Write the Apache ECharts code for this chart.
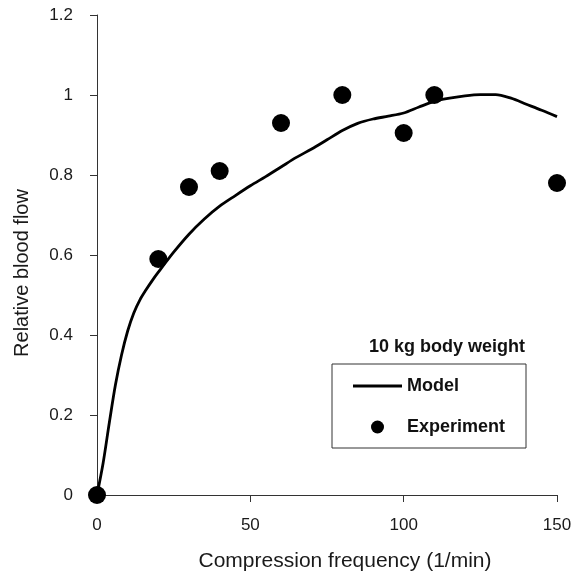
<!DOCTYPE html>
<html>
<head>
<meta charset="utf-8">
<script src="https://cdn.jsdelivr.net/npm/echarts@6/dist/echarts.min.js"></script>
<style>
html,body{margin:0;padding:0;background:#fff;}
#main{width:580px;height:577px;}
</style>
</head>
<body>
<div id="main"></div>
<script>
// model curve
var modelX=[0,2,4,6,8,10,12,14,16,18,20,25,30,35,40,45,50,55,60,65,70,75,80,85,90,95,100,105,110,115,120,125,130,135,140,145,150];
var modelY=[0,0.08,0.18,0.275,0.35,0.41,0.455,0.488,0.513,0.536,0.557,0.607,0.652,0.69,0.722,0.748,0.773,0.796,0.82,0.844,0.865,0.888,0.911,0.929,0.94,0.947,0.955,0.97,0.984,0.992,0.998,1.001,1.001,0.992,0.977,0.962,0.946];
// experiment points
var expX=[0,20,30,40,60,80,100,110,150];
var expY=[0,0.59,0.77,0.81,0.93,1.0,0.905,1.0,0.78];

var font='Arial, "Liberation Sans", sans-serif';
var chart=echarts.init(document.getElementById('main'));

var modelData=modelX.map(function(x,i){return [x,modelY[i]];});
var expData=expX.map(function(x,i){return [x,expY[i]];});

var option={
    backgroundColor:'#fff',
    animation:false,
    grid:{left:97,right:23,top:15,bottom:80},
    xAxis:{
        type:'value',min:0,max:150,interval:50,
        name:'Compression frequency (1/min)',nameLocation:'middle',nameGap:56,
        nameTextStyle:{fontFamily:font,fontSize:21,color:'#1a1a1a',padding:[0,0,0,36]},
        axisLine:{lineStyle:{color:'#333',width:1}},
        axisTick:{show:true,length:7,lineStyle:{color:'#333'}},
        axisLabel:{fontFamily:font,fontSize:17,color:'#1a1a1a',margin:22},
        splitLine:{show:false}
    },
    yAxis:{
        type:'value',min:0,max:1.2,interval:0.2,
        name:'Relative blood flow',nameLocation:'middle',nameGap:65,
        nameTextStyle:{fontFamily:font,fontSize:20,color:'#1a1a1a',padding:[0,36,0,0]},
        axisLine:{show:true,lineStyle:{color:'#333',width:1}},
        axisTick:{show:true,length:7,lineStyle:{color:'#333'}},
        axisLabel:{fontFamily:font,fontSize:17,color:'#1a1a1a',margin:24,padding:[6,0,0,0]},
        splitLine:{show:false}
    },
    legend:{
        data:[
            {name:'Model',icon:'path://M0,0 L49,0 L49,3 L0,3 Z'},
            {name:'Experiment',icon:'circle'}
        ],
        orient:'vertical',left:353,top:377,padding:0,
        itemWidth:49,itemHeight:13,itemGap:23,
        textStyle:{fontFamily:font,fontSize:18,fontWeight:'bold',color:'#111'}
    },
    graphic:[
        {type:'rect',shape:{x:332,y:364,width:194,height:84},
         style:{fill:'none',stroke:'#333',lineWidth:1}},
        {type:'text',x:447,y:347,
         style:{text:'10 kg body weight',font:'bold 18px '+font,fill:'#111',
                textAlign:'center',textVerticalAlign:'middle'}}
    ],
    series:[
        {name:'Model',type:'line',data:modelData,smooth:0.3,
         symbol:'none',lineStyle:{color:'#000',width:2.8},itemStyle:{color:'#000'},z:2},
        {name:'Experiment',type:'scatter',data:expData,symbolSize:18,
         itemStyle:{color:'#000',opacity:1},z:3}
    ]
};
chart.setOption(option);
</script>
</body>
</html>
